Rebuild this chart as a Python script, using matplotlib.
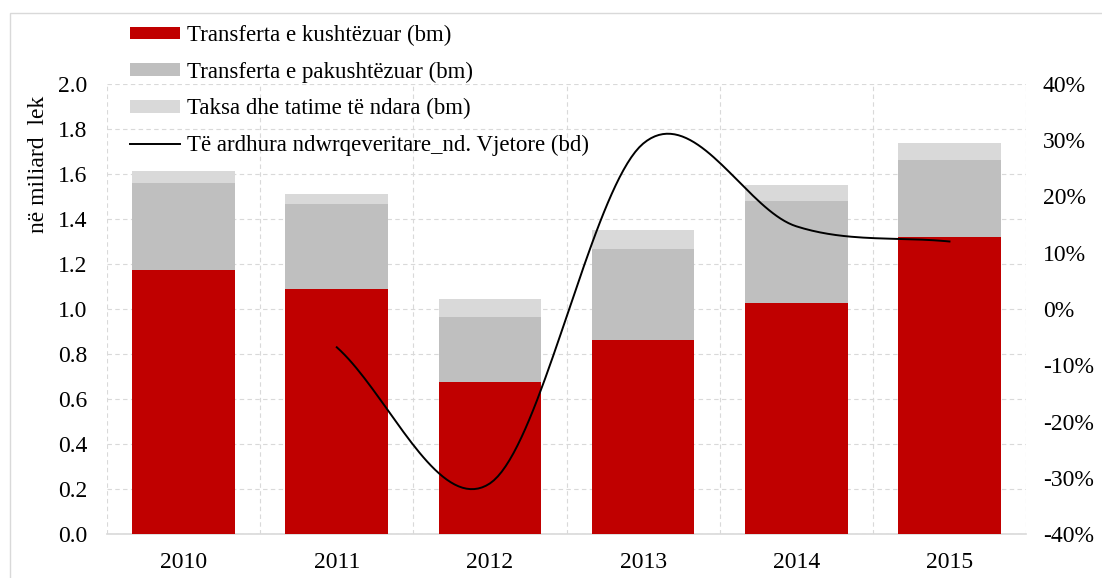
import numpy as np
import matplotlib
matplotlib.use("Agg")
import matplotlib.pyplot as plt
from matplotlib.ticker import FuncFormatter, MultipleLocator

plt.rcParams['font.family'] = ['Liberation Serif', 'DejaVu Serif']

years = ["2010", "2011", "2012", "2013", "2014", "2015"]
kushtezuar = [1.173, 1.087, 0.674, 0.862, 1.027, 1.319]
pakushtezuar = [0.387, 0.378, 0.292, 0.405, 0.454, 0.343]
taksa = [0.053, 0.045, 0.078, 0.084, 0.070, 0.077]
rritja = [np.nan, -6.8, -31.0, 29.4, 14.7, 12.0]   # % vjetore

lbl = ["Transferta e kushtëzuar (bm)", "Transferta e pakushtëzuar (bm)",
       "Taksa dhe tatime të ndara (bm)", "Të ardhura ndwrqeveritare_nd. Vjetore (bd)"]


def smooth(xs, ys, n=40):
    # Excel-like smoothed line (Catmull-Rom through the points)
    xs = np.asarray(xs, float)
    ys = np.asarray(ys, float)
    px, py = [], []
    for i in range(len(xs) - 1):
        m0 = (ys[i + 1] - ys[i - 1]) / 2 if i > 0 else (ys[i + 1] - ys[i])
        m1 = (ys[i + 2] - ys[i]) / 2 if i + 2 < len(xs) else (ys[i + 1] - ys[i])
        t = np.linspace(0, 1, n)
        h00 = 2 * t**3 - 3 * t**2 + 1
        h10 = t**3 - 2 * t**2 + t
        h01 = -2 * t**3 + 3 * t**2
        h11 = t**3 - t**2
        px.extend(xs[i] + t * (xs[i + 1] - xs[i]))
        py.extend(h00 * ys[i] + h10 * m0 + h01 * ys[i + 1] + h11 * m1)
    return np.array(px), np.array(py)


fs = 17
fig = plt.figure(figsize=(11.02, 5.78), dpi=100)
ax = fig.add_axes([0.0971, 0.0761, 0.834, 0.7786])
x = np.arange(len(years))
w = 0.67

b1 = ax.bar(x, kushtezuar, w, color="#C00000", zorder=3)
b2 = ax.bar(x, pakushtezuar, w, bottom=kushtezuar, color="#BFBFBF", zorder=3)
base = np.array(kushtezuar) + np.array(pakushtezuar)
b3 = ax.bar(x, taksa, w, bottom=base, color="#D9D9D9", zorder=3)

ax.set_xlim(-0.5, 5.5)
ax.set_ylim(0, 2.0)
ax.yaxis.set_major_locator(MultipleLocator(0.2))
ax.yaxis.set_major_formatter(FuncFormatter(lambda v, p: f"{v:.1f}"))
ax.set_xticks(x)
ax.set_xticklabels(years)
ax.set_xticks(np.arange(-0.5, 6.0, 1), minor=True)
ax.grid(axis="y", which="major", color="#D9D9D9", ls=(0, (4, 3)), lw=0.8, zorder=0)
ax.grid(axis="x", which="minor", color="#D9D9D9", ls=(0, (4, 3)), lw=0.8, zorder=0)
ax.tick_params(axis="both", which="both", length=0, labelsize=fs)
ax.tick_params(axis="x", pad=13)
ax.tick_params(axis="y", pad=14)
for s in ["left", "right", "top"]:
    ax.spines[s].set_visible(False)
ax.spines["bottom"].set_color("#D9D9D9")
ax.spines["bottom"].set_linewidth(1.2)
ax.set_ylabel("në miliard  lek", fontsize=fs)
ax.yaxis.set_label_coords(-0.063, 0.822)

ax2 = ax.twinx()
sx, sy = smooth(x[1:], rritja[1:])
ln, = ax2.plot(sx, sy, color="black", lw=1.4, zorder=4)
ax2.set_ylim(-40, 40)
ax2.yaxis.set_major_locator(MultipleLocator(10))
ax2.yaxis.set_major_formatter(FuncFormatter(lambda v, p: f"{v:.0f}%"))
ax2.tick_params(axis="y", length=0, labelsize=fs, pad=12)
for s in ax2.spines.values():
    s.set_visible(False)

leg = fig.legend([b1, b2, b3, ln], lbl, loc="upper left",
                 bbox_to_anchor=(130 / 1102, 0.957), frameon=False, fontsize=16.5,
                 handlelength=2.2, handleheight=0.45, labelspacing=0.68,
                 handletextpad=0.3, borderpad=0, borderaxespad=0)

# figure frame
fig.add_artist(plt.Rectangle((10 / 1102, -0.01), 1.0, 1 - 13 / 578 + 0.01,
                             transform=fig.transFigure, fill=False,
                             edgecolor="#D9D9D9", lw=1.0))

fig.savefig("out.png", dpi=100)
